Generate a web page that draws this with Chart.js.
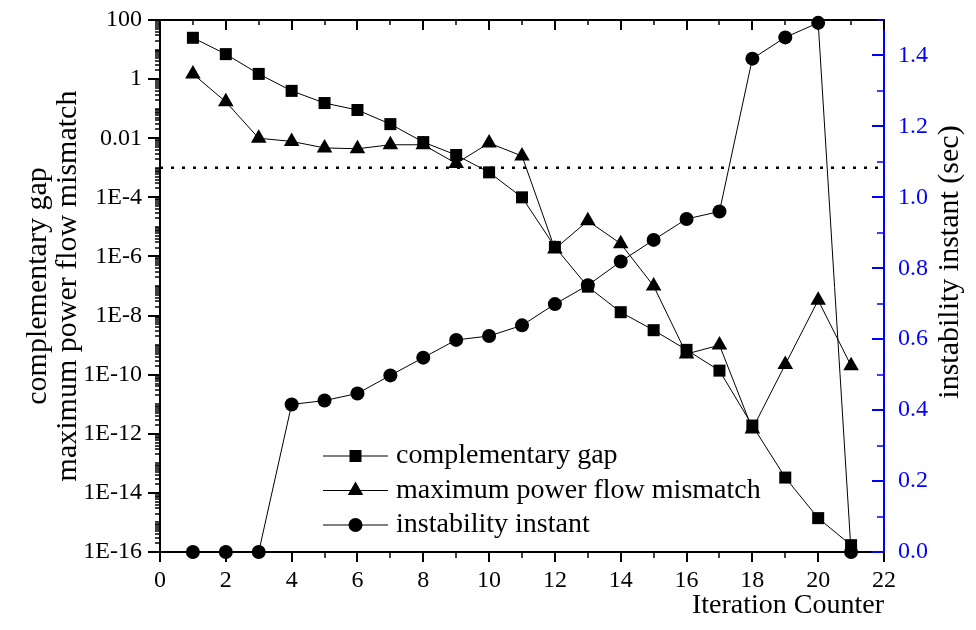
<!DOCTYPE html>
<html>
<head>
<meta charset="utf-8">
<script src="https://cdn.jsdelivr.net/npm/chart.js@4.4.1/dist/chart.umd.min.js"></script>
<style>
    html, body { margin: 0; padding: 0; background: #fff; }
    #wrap { width: 976px; height: 630px; }
</style>
</head>
<body>
<div id="wrap"><canvas id="chart" width="976" height="630"></canvas></div>
<script>
const iterations = [1, 2, 3, 4, 5, 6, 7, 8, 9, 10, 11, 12, 13, 14, 15, 16, 17, 18, 19, 20, 21];
const complementaryGap = [25, 7, 1.5, 0.4, 0.155, 0.09, 0.03, 0.0074, 0.0027, 7e-4, 1e-4, 2.1e-6, 9.5e-8, 1.3e-8, 3.2e-9, 6.9e-10, 1.37e-10, 1.9e-12, 3.3e-14, 1.4e-15, 1.7e-16];
const powerFlowMismatch = [1.5, 0.17, 0.010, 0.0078, 0.0047, 0.0044, 0.006, 0.006, 0.0014, 0.0069, 0.0025, 1.8e-6, 1.6e-5, 2.7e-6, 1.0e-7, 5e-10, 1.0e-9, 1.45e-12, 2.2e-10, 3.3e-8, 2.0e-10];
const instabilityInstant = [0, 0, 0, 0.416, 0.427, 0.447, 0.498, 0.548, 0.598, 0.609, 0.639, 0.699, 0.752, 0.819, 0.880, 0.939, 0.960, 1.391, 1.451, 1.492, 0];
const thresholdX = [0, 22];
const thresholdY = [1e-3, 1e-3];

const seriesNames = ['complementary gap', 'maximum power flow mismatch', 'instability instant'];
const seriesMarkers = ['rect', 'triangle', 'circle'];
const xTickValues = [0, 2, 4, 6, 8, 10, 12, 14, 16, 18, 20, 22];
const leftTickValues = [1e-16, 1e-14, 1e-12, 1e-10, 1e-8, 1e-6, 1e-4, 1e-2, 1, 100];
const rightTickValues = [0, 0.2, 0.4, 0.6, 0.8, 1.0, 1.2, 1.4];
const leftTitle = ['complementary gap', 'maximum power flow mismatch'];
const rightTitle = 'instability instant (sec)';
const xTitle = 'Iteration Counter';

const SERIF = '"Liberation Serif", "Times New Roman", serif';
const BLUE = '#0000ff';
const markerRadius = { rect: 8.5, triangle: 9, circle: 7 };

function pairs(xs, ys) {
    return xs.map((x, i) => ({ x, y: ys[i] }));
}

function logLabel(v) {
    const e = Math.round(Math.log10(v));
    if (e >= 0) return String(Math.pow(10, e));
    if (e >= -2) return (Math.pow(10, e)).toFixed(-e);
    return '1E' + e;
}

function seriesDataset(label, ys, marker, axis) {
    return {
        label,
        data: pairs(iterations, ys),
        yAxisID: axis,
        borderColor: '#000',
        backgroundColor: '#000',
        borderWidth: 1,
        pointStyle: marker,
        pointRadius: markerRadius[marker],
        pointHoverRadius: markerRadius[marker],
        pointBorderWidth: 0,
        tension: 0,
        clip: false
    };
}

// keep the plot box where the reference has it
function fixVertical(width) {
    return (s) => { s.width = width; s.paddingTop = 0; s.paddingBottom = 0; };
}

// frame, minor ticks, right title and the in-plot legend
const decorations = {
    id: 'decorations',
    afterDraw(chart) {
        const { ctx, chartArea: a, scales } = chart;
        const xs = scales.x, yl = scales.y, yr = scales.y2;
        const seg = (x0, y0, x1, y1) => { ctx.beginPath(); ctx.moveTo(x0, y0); ctx.lineTo(x1, y1); ctx.stroke(); };
        ctx.save();
        ctx.strokeStyle = '#000';
        ctx.lineWidth = 2;
        seg(a.left - 1, a.top, a.right, a.top);

        for (let v = 0; v <= 22; v++) {
            const px = Math.round(xs.getPixelForValue(v));
            const major = v % 2 === 0;
            ctx.lineWidth = major ? 2 : 1.5;
            seg(px, a.bottom, px, a.bottom + (major ? 10 : 6));
            seg(px, a.top, px, a.top + (major ? 10 : 5));
        }

        for (let e = -16; e <= 2; e++) {
            for (let m = 1; m <= 9; m++) {
                const v = m * Math.pow(10, e);
                if (v > 100 * 1.0001) break;
                const py = Math.round(yl.getPixelForValue(v));
                const major = m === 1 && e % 2 === 0;
                ctx.lineWidth = major ? 2 : 1.5;
                seg(a.left, py, a.left - (major ? 12 : 5), py);
            }
        }

        ctx.strokeStyle = BLUE;
        for (let k = 0; k <= 15; k++) {
            const py = Math.round(yr.getPixelForValue(k / 10));
            const major = k % 2 === 0;
            ctx.lineWidth = major ? 2 : 1.5;
            seg(a.right, py, a.right - (major ? 12 : 7), py);
        }

        ctx.fillStyle = '#000';
        ctx.font = '30px ' + SERIF;
        ctx.textAlign = 'center';
        ctx.textBaseline = 'middle';
        ctx.translate(950, 262);
        ctx.rotate(-Math.PI / 2);
        ctx.fillText(rightTitle, 0, 0);
        ctx.restore();

        ctx.save();
        const lx0 = a.left + 163, lx1 = a.left + 228, tx = a.left + 236;
        seriesNames.forEach((name, i) => {
            const y = 456 + i * 34.5;
            ctx.strokeStyle = '#000';
            ctx.lineWidth = 1;
            seg(lx0, y, lx1, y);
            ctx.fillStyle = '#000';
            Chart.helpers.drawPoint(ctx, {
                pointStyle: seriesMarkers[i],
                radius: markerRadius[seriesMarkers[i]],
                rotation: 0,
                borderWidth: 0
            }, (lx0 + lx1) / 2, y);
            ctx.fillStyle = '#000';
            ctx.font = '28px ' + SERIF;
            ctx.textAlign = 'left';
            ctx.textBaseline = 'middle';
            ctx.fillText(name, tx, y);
        });
        ctx.restore();
    }
};

const chart = new Chart(document.getElementById('chart'), {
    type: 'line',
    data: {
        datasets: [
            {
                label: 'threshold',
                data: pairs(thresholdX, thresholdY),
                yAxisID: 'y',
                borderColor: '#000',
                borderWidth: 2.5,
                borderDash: [3, 8],
                pointRadius: 0,
                pointHoverRadius: 0
            },
            seriesDataset(seriesNames[2], instabilityInstant, 'circle', 'y2'),
            seriesDataset(seriesNames[1], powerFlowMismatch, 'triangle', 'y'),
            seriesDataset(seriesNames[0], complementaryGap, 'rect', 'y')
        ]
    },
    options: {
        responsive: false,
        animation: false,
        events: [],
        layout: { padding: { top: 20, left: 0, right: 0, bottom: 0 } },
        plugins: {
            legend: { display: false },
            tooltip: { enabled: false }
        },
        scales: {
            x: {
                type: 'linear',
                position: 'bottom',
                min: 0,
                max: 22,
                afterBuildTicks: (s) => { s.ticks = xTickValues.map((v) => ({ value: v })); },
                afterFit: (s) => { s.height = 78; s.paddingLeft = 0; s.paddingRight = 0; },
                grid: { display: false, drawTicks: false },
                border: { display: true, color: '#000', width: 2 },
                ticks: {
                    padding: 14,
                    color: '#000',
                    maxRotation: 0,
                    autoSkip: false,
                    font: { family: SERIF, size: 24 }
                },
                title: {
                    display: true,
                    text: xTitle,
                    align: 'end',
                    color: '#000',
                    font: { family: SERIF, size: 28, lineHeight: 1 },
                    padding: { top: 0, bottom: 10 }
                }
            },
            y: {
                type: 'logarithmic',
                position: 'left',
                min: 1e-16,
                max: 100,
                afterBuildTicks: (s) => { s.ticks = leftTickValues.map((v) => ({ value: v })); },
                afterFit: fixVertical(160),
                grid: { display: false, drawTicks: false },
                border: { display: true, color: '#000', width: 2 },
                ticks: {
                    padding: 18,
                    color: '#000',
                    autoSkip: false,
                    font: { family: SERIF, size: 24 },
                    callback: (v) => logLabel(v)
                },
                title: {
                    display: true,
                    text: leftTitle,
                    color: '#000',
                    font: { family: SERIF, size: 30, lineHeight: 1 },
                    padding: { top: 23, bottom: 0 }
                }
            },
            y2: {
                type: 'linear',
                position: 'right',
                min: 0,
                max: 1.5,
                afterBuildTicks: (s) => { s.ticks = rightTickValues.map((v) => ({ value: v })); },
                afterFit: fixVertical(92),
                grid: { display: false, drawTicks: false },
                border: { display: true, color: BLUE, width: 2 },
                ticks: {
                    padding: 14,
                    color: BLUE,
                    autoSkip: false,
                    font: { family: SERIF, size: 24 },
                    callback: (v) => Number(v).toFixed(1)
                }
            }
        }
    },
    plugins: [decorations]
});
</script>
</body>
</html>
